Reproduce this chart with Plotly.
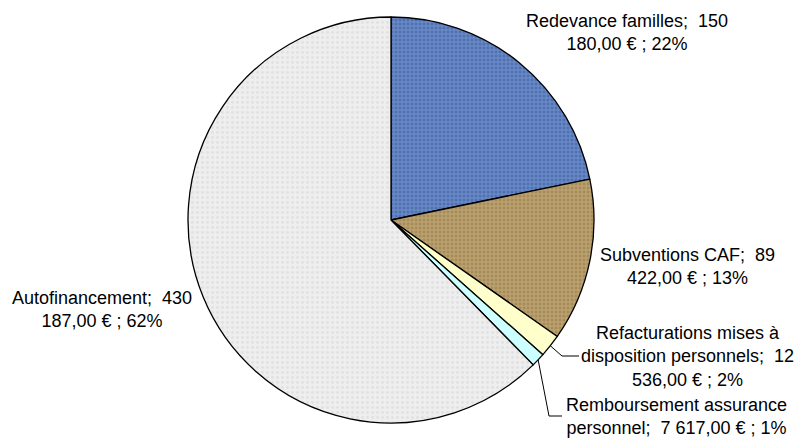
import math
import plotly.graph_objects as go

labels = ["Redevance familles", "Subventions CAF", "Refacturations mises à disposition personnels",
          "Remboursement assurance personnel", "Autofinancement"]
values = [150180, 89422, 12536, 7617, 430187]
pct_text = ["22%", "13%", "2%", "1%", "62%"]

# label text, wrapped as in the original
label_lines = [
    "Redevance familles;\u00a0 150<br>180,00 €\u00a0; 22%",
    "Subventions CAF;\u00a0 89<br>422,00 €\u00a0; 13%",
    "Refacturations mises à<br>disposition personnels;\u00a0 12<br>536,00 €\u00a0; 2%",
    "Remboursement assurance<br>personnel;\u00a0 7\u00a0617,00 €\u00a0; 1%",
    "Autofinancement;\u00a0 430<br>187,00 €\u00a0; 62%",
]

W, H = 796, 441
cx, cy, r = 391, 220, 203

def px(x):
    return x / W

def py(y):
    return (H - y) / H

fig = go.Figure()
fig.add_trace(go.Pie(
    labels=labels,
    values=values,
    sort=False,
    direction="clockwise",
    rotation=0,
    textinfo="none",
    hoverinfo="label+value+percent",
    showlegend=False,
    domain=dict(x=[px(cx - r), px(cx + r)], y=[py(cy + r), py(cy - r)]),
    marker=dict(
        colors=["#5a7dbf", "#b6996a", "#ffffcc", "#ccffff", "#ebebeb"],
        line=dict(color="#000000", width=1.3),
        pattern=dict(
            shape=["+", "+", "", "", "."],
            fgcolor=["#9ab8e6", "#dccaa2", "#ffffcc", "#ccffff", "#d4d4d4"],
            bgcolor=["#4f70b2", "#a88c58", "#ffffcc", "#ccffff", "#eeeeee"],
            size=[4, 4, 4, 4, 5],
            solidity=[0.4, 0.4, 0.3, 0.3, 0.25],
            fillmode="overlay",
        ),
    ),
))

# label positions (pixel centres of each text block)
label_pos = [(627, 32), (687, 266), (687, 356), (676, 416), (102, 309)]
font = dict(family="Liberation Sans, Arial, sans-serif", size=18, color="#000000")
for txt, (x, y) in zip(label_lines, label_pos):
    fig.add_annotation(x=px(x), y=py(y), xref="paper", yref="paper", text=txt,
                       showarrow=False, align="center", xanchor="center", yanchor="middle",
                       font=font)

# leader lines for the two thin slices
total = sum(values)
cum = 0
mids = []
for v in values:
    mids.append((cum + v / 2) / total)
    cum += v

def edge(frac):
    a = 2 * math.pi * frac
    return cx + r * math.sin(a), cy - r * math.cos(a)

leaders = [
    (2, [(562, 356), (579, 356)]),
    (3, [(549, 416), (562, 416)]),
]
for idx, pts in leaders:
    path_pts = [edge(mids[idx])] + pts
    for (x0, y0), (x1, y1) in zip(path_pts[:-1], path_pts[1:]):
        fig.add_shape(type="line", xref="paper", yref="paper",
                      x0=px(x0), y0=py(y0), x1=px(x1), y1=py(y1),
                      line=dict(color="#000000", width=1))

fig.update_layout(
    width=W, height=H,
    margin=dict(l=0, r=0, t=0, b=0),
    paper_bgcolor="#ffffff",
    plot_bgcolor="#ffffff",
)

fig.write_html("out.html",
               config={"displayModeBar": False},
               post_script="document.body.style.margin='0px';document.body.style.overflow='hidden';")
